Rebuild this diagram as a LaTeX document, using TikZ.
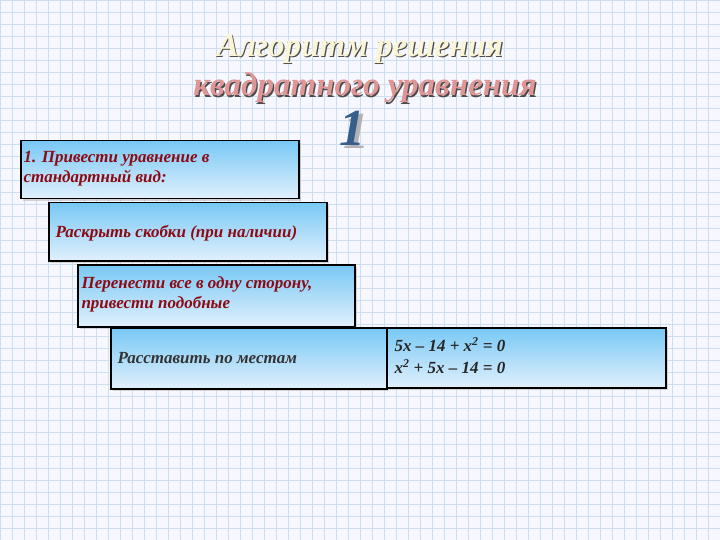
\documentclass[tikz,border=0pt]{standalone}
\usepackage{fontspec}
\setmainfont{Liberation Serif}
\usetikzlibrary{shadows}
\definecolor{grid}{RGB}{205,222,240}
\definecolor{dred}{RGB}{140,10,20}
\definecolor{bluetop}{RGB}{120,200,245}
\definecolor{bluebot}{RGB}{225,240,252}
\definecolor{titlefill}{RGB}{250,245,215}
\definecolor{titlefill2}{RGB}{225,150,150}
\definecolor{onecol}{RGB}{55,95,140}
\tikzset{
  stepbox/.style={draw=black, line width=1.5pt, top color=bluetop, bottom color=bluebot,
    drop shadow={shadow xshift=2pt, shadow yshift=-2pt, fill=gray!60},
    anchor=north west, inner sep=0pt},
  txt/.style={font=\bfseries\itshape\fontsize{17}{20}\selectfont, align=left},
  ttl/.style={font=\bfseries\itshape\fontsize{33}{33}\selectfont, inner sep=0pt}
}
\begin{document}
\begin{tikzpicture}[x=1pt,y=-1pt]
\useasboundingbox (0,0) rectangle (720,540);
\fill[white!97!blue] (0,0) rectangle (720,540);
\foreach \i in {0,12,...,720} \draw[grid, line width=0.5pt] (\i,0) -- (\i,540);
\foreach \j in {0,12,...,540} \draw[grid, line width=0.5pt] (0,\j) -- (720,\j);
\node[ttl, text=black!70] (t1s) at (361.2,50.2) {Алгоритм решения};
\node[ttl, text=titlefill] (t1) at (360,49) {Алгоритм решения};
\node[ttl, text=black!70] (t2s) at (366.2,89.2) {квадратного уравнения};
\node[ttl, text=titlefill2] (t2) at (365,88) {квадратного уравнения};
\node[text=gray!60, inner sep=0pt, font=\bfseries\itshape\fontsize{52}{52}\selectfont] (ones) at (356,131) {1};
\node[text=onecol, inner sep=0pt, font=\bfseries\itshape\fontsize{52}{52}\selectfont] (one) at (352,128) {1};
\node[stepbox, minimum width=278, minimum height=58] (b1) at (20,140) {};
\node[txt, anchor=north west, text=dred] (l1) at (20,148) {1. Привести уравнение в\\стандартный вид:};
\node[stepbox, minimum width=278, minimum height=58] (b2) at (48,202) {};
\node[txt, text=dred, anchor=west] (l2) at (52,233) {Раскрыть скобки (при наличии)};
\node[stepbox, minimum width=277, minimum height=62] (b3) at (77,264) {};
\node[txt, anchor=north west, text=dred] (l3) at (78,273) {Перенести все в одну сторону,\\привести подобные};
\node[stepbox, minimum width=276, minimum height=61] (b4) at (110,327) {};
\node[txt, text=black!80, anchor=west] (l4) at (114,358) {Расставить по местам};
\node[stepbox, minimum width=279, minimum height=60] (b5) at (386,327) {};
\node[txt, anchor=north west, text=black!85, font=\bfseries\itshape\fontsize{17}{22}\selectfont] (l5) at (391,334) {5x – 14 + x\textsuperscript{2} = 0\\x\textsuperscript{2} + 5x – 14 = 0};
\end{tikzpicture}
\end{document}
